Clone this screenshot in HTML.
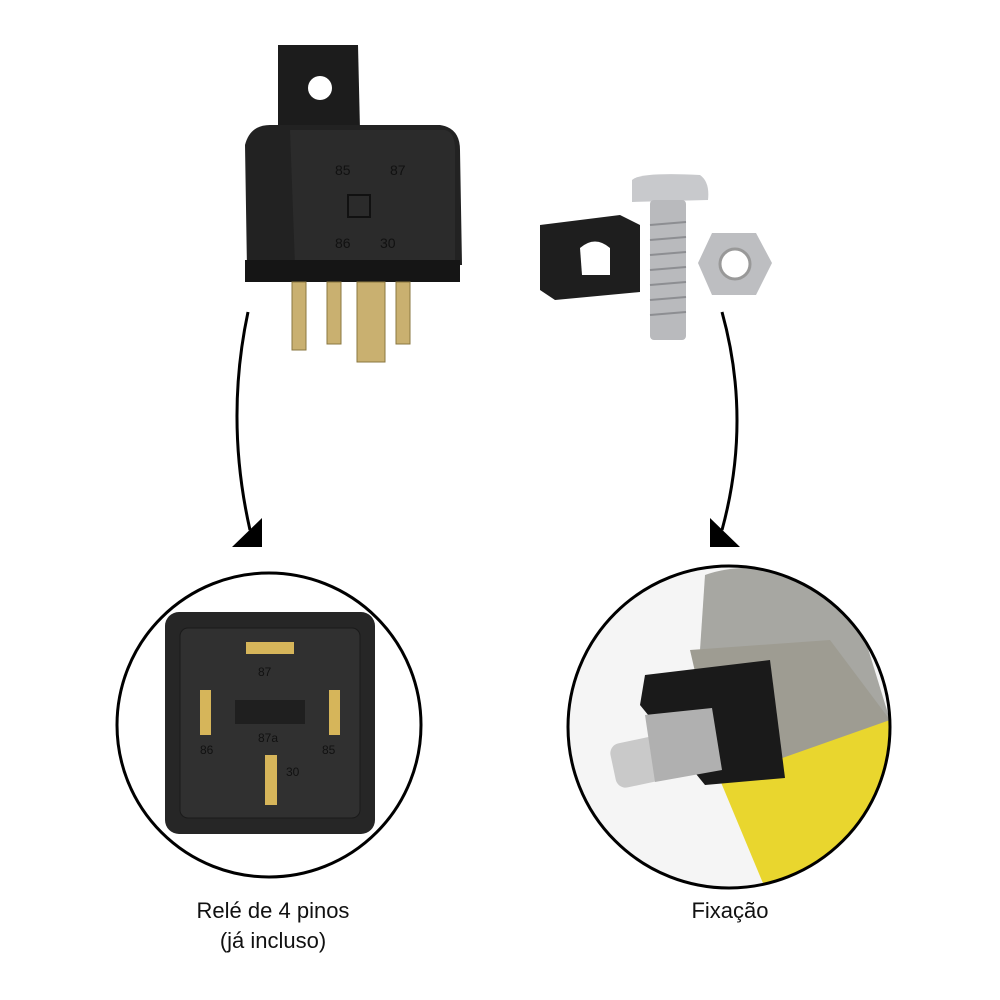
<!DOCTYPE html>
<html><head><meta charset="utf-8"><style>
html,body{margin:0;padding:0;background:#fff;}
svg{display:block}
text{font-family:"Liberation Sans",sans-serif;}
</style></head><body>
<svg width="1000" height="1000" viewBox="0 0 1000 1000">
<rect width="1000" height="1000" fill="#fff"/>
<path d="M278 45 L358 45 L360 130 L278 130 Z" fill="#1c1c1c"/>
<circle cx="320" cy="88" r="12" fill="#fff"/>
<path d="M245 145 Q250 125 270 125 L440 125 Q460 128 460 150 L462 265 L247 270 Z" fill="#222"/>
<path d="M290 130 L445 130 Q455 132 455 150 L455 260 L295 265 Z" fill="#2b2b2b"/>
<rect x="245" y="260" width="215" height="22" fill="#151515"/>
<g fill="#111" font-size="14"><text x="335" y="175">85</text><text x="390" y="175">87</text><text x="335" y="248">86</text><text x="380" y="248">30</text></g>
<rect x="348" y="195" width="22" height="22" fill="none" stroke="#111" stroke-width="2"/>
<g fill="#c9b070" stroke="#8a7740" stroke-width="1">
<rect x="292" y="282" width="14" height="68"/>
<rect x="327" y="282" width="14" height="62"/>
<rect x="357" y="282" width="28" height="80"/>
<rect x="396" y="282" width="14" height="62"/>
</g>
<path d="M540 225 L620 215 L640 225 L640 292 L555 300 L540 290 Z" fill="#1e1e1e"/>
<path d="M580 248 Q595 235 610 248 L610 275 L582 275 Z" fill="#fff"/>
<path d="M632 180 Q640 172 700 175 Q710 182 708 200 L632 202 Z" fill="#c8c9cc"/>
<rect x="650" y="200" width="36" height="140" rx="4" fill="#b9babd"/>
<g stroke="#8d8e92" stroke-width="2"><line x1="650" y1="225" x2="686" y2="222"/><line x1="650" y1="240" x2="686" y2="237"/><line x1="650" y1="255" x2="686" y2="252"/><line x1="650" y1="270" x2="686" y2="267"/><line x1="650" y1="285" x2="686" y2="282"/><line x1="650" y1="300" x2="686" y2="297"/><line x1="650" y1="315" x2="686" y2="312"/></g>
<polygon points="712,233 756,233 772,263 756,295 712,295 698,263" fill="#bdbec1"/>
<circle cx="735" cy="264" r="15" fill="#fff" stroke="#999" stroke-width="3"/>
<path d="M248 312 Q225 420 250 530" fill="none" stroke="#000" stroke-width="3"/>
<polygon points="232,547 262,547 262,518" fill="#000"/>
<path d="M722 312 Q752 420 722 530" fill="none" stroke="#000" stroke-width="3"/>
<polygon points="740,547 710,547 710,518" fill="#000"/>
<circle cx="269" cy="725" r="152" fill="#fff" stroke="#000" stroke-width="3"/>
<rect x="165" y="612" width="210" height="222" rx="14" fill="#262626"/>
<rect x="180" y="628" width="180" height="190" rx="8" fill="#303030" stroke="#1a1a1a"/>
<rect x="235" y="700" width="70" height="24" fill="#1f1f1f"/>
<g fill="#d6b55a"><rect x="246" y="642" width="48" height="12"/><rect x="200" y="690" width="11" height="45"/><rect x="329" y="690" width="11" height="45"/><rect x="265" y="755" width="12" height="50"/></g>
<g fill="#111" font-size="12"><text x="258" y="676">87</text><text x="258" y="742">87a</text><text x="200" y="754">86</text><text x="322" y="754">85</text><text x="286" y="776">30</text></g>
<defs><clipPath id="c"><circle cx="729" cy="727" r="161"/></clipPath></defs>
<g clip-path="url(#c)">
<rect x="560" y="560" width="340" height="340" fill="#f5f5f5"/>
<path d="M705 575 Q760 555 850 590 L890 720 L760 760 L700 650 Z" fill="#a7a7a2"/>
<path d="M690 650 L830 640 L890 720 L800 780 L720 780 Z" fill="#9e9c92"/>
<path d="M720 780 L890 720 L900 900 L770 900 Z" fill="#e9d62e"/>
<path d="M645 675 L770 660 L785 778 L705 785 L640 705 Z" fill="#1a1a1a"/>
<rect x="612" y="735" width="95" height="45" rx="10" fill="#c9c9c9" transform="rotate(-12 660 757)"/>
<polygon points="645,715 712,708 722,770 655,782" fill="#b0b0b0"/>
</g>
<circle cx="729" cy="727" r="161" fill="none" stroke="#000" stroke-width="3"/>
<text x="273" y="918" font-size="22" text-anchor="middle" fill="#111">Relé de 4 pinos</text>
<text x="273" y="948" font-size="22" text-anchor="middle" fill="#111">(já incluso)</text>
<text x="730" y="918" font-size="22" text-anchor="middle" fill="#111">Fixação</text>
</svg>
</body></html>
